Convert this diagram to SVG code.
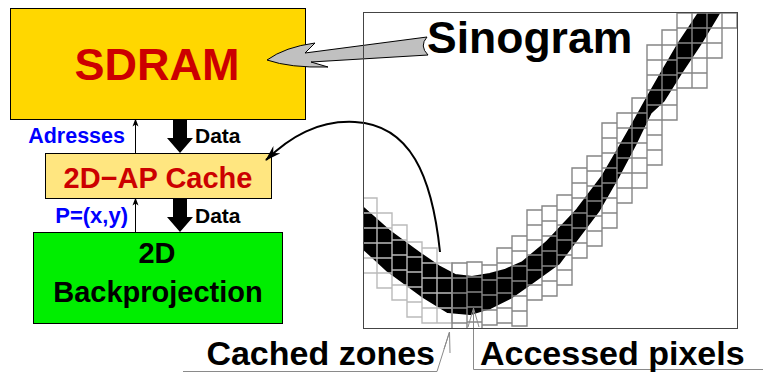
<svg xmlns="http://www.w3.org/2000/svg" width="763" height="374" viewBox="0 0 763 374">
<style>
text{font-family:"Liberation Sans",Arial,sans-serif;font-weight:bold}
.box{stroke:#000;stroke-width:1}
.red{fill:#CC0000}
.blue{fill:#0000FF}
.blk{fill:#000}
.gl{fill:none;stroke:#bababa;stroke-width:1.4}
.gd{fill:none;stroke:#858585;stroke-width:1.4}
.lead{fill:none;stroke:#8a8a8a;stroke-width:1}
.thin{fill:none;stroke:#000;stroke-width:1}
</style>
<defs>
<marker id="small" viewBox="0 0 8 8" refX="7" refY="4" markerWidth="8" markerHeight="8" markerUnits="userSpaceOnUse" orient="auto">
<path d="M0,1 L8,4 L0,7 L2,4 z" fill="#000"/>
</marker>
<marker id="stealth" viewBox="0 0 16 10" refX="15" refY="5" markerWidth="16" markerHeight="10" markerUnits="userSpaceOnUse" orient="auto">
<path d="M0,0 L16,5 L0,10 L5,5 z" fill="#000"/>
</marker>
<clipPath id="clipS"><rect x="363.5" y="12.5" width="374" height="316"/></clipPath>
</defs>

<g id="sdram">
<rect class="box" x="10.5" y="8.5" width="295" height="111" fill="#FFD700"/>
<text class="red" x="157" y="80" font-size="45" text-anchor="middle">SDRAM</text>
</g>

<g id="cache">
<rect class="box" x="45.5" y="153.5" width="226" height="45" fill="#FFE680" stroke="#333"/>
<text class="red" x="158" y="188" font-size="29" text-anchor="middle">2D−AP Cache</text>
</g>

<g id="backprojection">
<rect class="box" x="33.5" y="232.5" width="249" height="91" fill="#00EE00"/>
<text class="blk" x="157" y="263" font-size="29" text-anchor="middle">2D</text>
<text class="blk" x="158" y="302" font-size="29" text-anchor="middle">Backprojection</text>
</g>

<g id="sinogram">
<g clip-path="url(#clipS)">
<polygon fill="#000" stroke="#000" stroke-width="4" stroke-linejoin="round" points="350,198 362,208 388,231 422,256 438,267 455,276 472,278 490,275 505,271 523,263 547,243 578,210 603,177 620,148 632,127 647,100 663,72 680,43 700,13 705,5 725,5 718,13 700,43 680,73 663,100 650,112 635,143 617,177 598,210 573,243 558,263 533,281 510,297 490,307 470,313 448,311 422,295 388,270 362,246 350,236"/>
<path class="gl" d="M362,198h15v75h-15z M362,213h15 M362,228h15 M362,243h15 M362,258h15
M377,213h15v75h-15z M377,228h15 M377,243h15 M377,258h15 M377,273h15
M392,225h15v75h-15z M392,240h15 M392,255h15 M392,270h15 M392,285h15
M407,242h15v75h-15z M407,257h15 M407,272h15 M407,287h15 M407,302h15
M422,248h15v75h-15z M422,263h15 M422,278h15 M422,293h15 M422,308h15
M437,263h15v60h-15z M437,278h15 M437,293h15 M437,308h15"/>
<path class="gd" d="M452,263h15v75h-15z M452,278h15 M452,293h15 M452,308h15 M452,323h15
M467,262h15v75h-15z M467,277h15 M467,292h15 M467,307h15 M467,322h15
M482,265h15v60h-15z M482,280h15 M482,295h15 M482,310h15
M497,248h15v75h-15z M497,263h15 M497,278h15 M497,293h15 M497,308h15
M512,236h15v90h-15z M512,251h15 M512,266h15 M512,281h15 M512,296h15 M512,311h15
M527,210h15v90h-15z M527,225h15 M527,240h15 M527,255h15 M527,270h15 M527,285h15
M542,206h15v90h-15z M542,221h15 M542,236h15 M542,251h15 M542,266h15 M542,281h15
M557,195h15v90h-15z M557,210h15 M557,225h15 M557,240h15 M557,255h15 M557,270h15
M572,168h15v90h-15z M572,183h15 M572,198h15 M572,213h15 M572,228h15 M572,243h15
M587,156h15v90h-15z M587,171h15 M587,186h15 M587,201h15 M587,216h15 M587,231h15
M602,123h15v105h-15z M602,138h15 M602,153h15 M602,168h15 M602,183h15 M602,198h15 M602,213h15
M617,113h15v90h-15z M617,128h15 M617,143h15 M617,158h15 M617,173h15 M617,188h15
M632,98h15v90h-15z M632,113h15 M632,128h15 M632,143h15 M632,158h15 M632,173h15
M647,45h15v120h-15z M647,60h15 M647,75h15 M647,90h15 M647,105h15 M647,120h15 M647,135h15 M647,150h15
M662,30h15v90h-15z M662,45h15 M662,60h15 M662,75h15 M662,90h15 M662,105h15
M677,13h15v75h-15z M677,28h15 M677,43h15 M677,58h15 M677,73h15
M692,13h15v75h-15z M692,28h15 M692,43h15 M692,58h15 M692,73h15
M707,13h15v45h-15z M707,28h15 M707,43h15
M722,13h15v15h-15z"/>
</g>
</g>

<g id="connectors">
<path d="M267,60 Q285,47 315,43 L305,53 L427,37 Q419,46 428,55 L311,62 L328,67 Q290,68 267,60 Z" fill="#c0c0c0" stroke="#000" stroke-width="1"/>
<line class="thin" x1="135.5" y1="153" x2="135.5" y2="119.5" marker-end="url(#small)"/>
<line class="thin" x1="135.5" y1="232" x2="135.5" y2="198.5" marker-end="url(#small)"/>
<polygon class="blk" points="173,119 187,119 187,138 193,138 180,153 167,138 173,138"/>
<polygon class="blk" points="173,198 187,198 187,217 193,217 180,232 167,217 173,217"/>
<path d="M440,252 C432,175 410,125 355,122 C318,120 290,137 266,160" fill="none" stroke="#000" stroke-width="2" marker-end="url(#stealth)"/>
<polyline class="lead" points="183,371.5 437,371.5 449.5,332"/>
<path class="lead" d="M449.5,332 L444,349 M449.5,332 L450,353"/>
<polyline class="lead" points="763,369.5 473.5,369.5 473.5,308"/>
<path class="lead" d="M473.5,308 L468,327 M473.5,308 L479,327"/>
</g>

<g id="sinogram-frame">
<rect x="363.5" y="12.5" width="374" height="316" fill="none" stroke="#444" stroke-width="1"/>
</g>

<g id="labels">
<text class="blue" x="125" y="143" font-size="21.5" text-anchor="end">Adresses</text>
<text class="blk" x="195" y="143" font-size="21">Data</text>
<text class="blue" x="128" y="223" font-size="22" text-anchor="end">P=(x,y)</text>
<text class="blk" x="195" y="223" font-size="21">Data</text>
<text class="blk" x="427" y="53" font-size="44.5">Sinogram</text>
<text class="blk" x="435" y="365" font-size="34" text-anchor="end">Cached zones</text>
<text class="blk" x="480" y="365" font-size="34">Accessed pixels</text>
</g>
</svg>
